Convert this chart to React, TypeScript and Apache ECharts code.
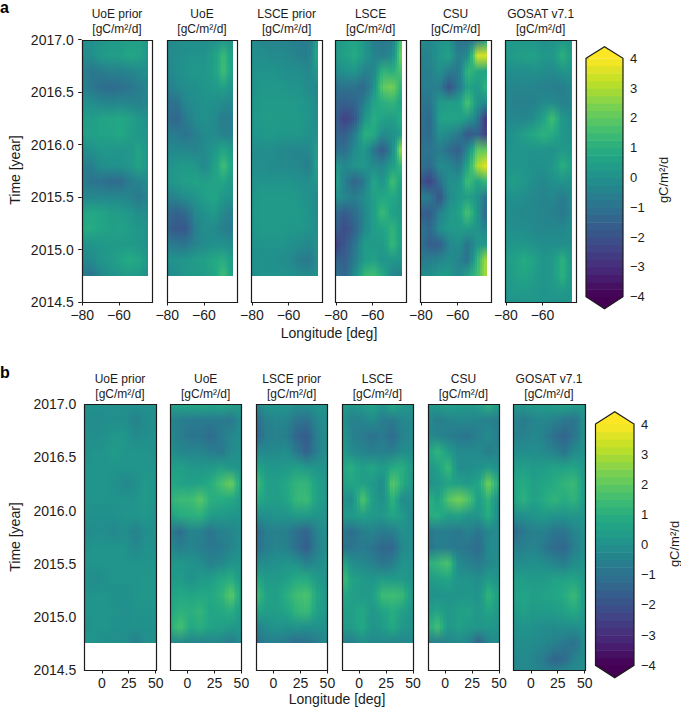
import React, { useEffect, useRef } from "react";
import * as echarts from "echarts";

// Node values; strips shade between these nodes with gradients.
const timeNodes = [2017, 2016.85, 2016.7, 2016.55, 2016.4, 2016.25, 2016.1, 2015.95, 2015.8, 2015.65, 2015.5, 2015.35, 2015.2, 2015.05, 2014.9, 2014.75];
const timeNodesFull = [...timeNodes, 2014.6, 2014.5];
const lonNodesA = [-80.3, -75.1, -69.9, -64.7, -59.6, -54.4, -49.2, -44];
const lonNodesB = [-16.2, -6.7, 2.7, 12.2, 21.6, 31.1, 40.5, 50];
const colorLevels = [-4, -3.75, -3.5, -3.25, -3, -2.75, -2.5, -2.25, -2, -1.75, -1.5, -1.25, -1, -0.75, -0.5, -0.25, 0, 0.25, 0.5, 0.75, 1, 1.25, 1.5, 1.75, 2, 2.25, 2.5, 2.75, 3, 3.25, 3.5, 3.75, 4];
const lonTicksA = [-80, -60];
const lonTicksB = [0, 25, 50];
const panelNames = ["UoE prior", "UoE", "LSCE prior", "LSCE", "CSU", "GOSAT v7.1"];
const viridis = ["#440154", "#482475", "#414487", "#355f8d", "#2a788e", "#21918c", "#22a884", "#44bf70", "#7ad151", "#bddf26", "#fde725"];

const aUoePrior = [
  [0, 0, .1, .3, .3, .5, .5, .2], [-.2, -.1, .3, .4, .4, .7, .6, .2], [-.5, -.8, -.7, -.5, -.5, -.4, -.2, -.1], [-.5, -.8, -1.1, -1.2, -1.1, -.9, -.6, -.4],
  [0, -.1, -.3, -.4, -.3, -.4, -.5, -.3], [.5, .4, .6, .7, .8, .6, .2, 0], [.5, .5, .6, .6, .8, .5, .2, .1], [-.2, 0, .2, .2, .1, .2, .6, .2],
  [-.6, -.6, -.1, 0, 0, .2, .6, .2], [-.6, -.9, -1, -1.2, -1.2, -.7, -.4, -.1], [-.3, -.3, -.3, -.3, -.3, -.4, -.8, -.4], [.6, .8, .7, .4, .4, .2, -.1, -.2],
  [.8, .9, .7, .5, .6, .4, .2, .1], [0, .1, .2, .3, .3, .3, .2, 0], [-.4, -.2, .1, .3, .6, .9, .7, .2], [-.7, -1, -.3, 0, .2, .3, .3, -.1],
];
const aUoe = [
  [-.3, -.2, -.1, -.1, -.1, 0, .2, 0], [-.3, -.1, 0, .1, .1, .5, 1.4, .4], [-.4, -.1, .1, .2, .2, .5, 1.5, .4], [-.7, -.3, -.1, 0, .1, .3, .5, 0],
  [-1, -1, -.3, -.1, 0, 0, -.2, -.3], [-1, -1.4, -.7, -.2, 0, -.2, -.7, -.6], [-.6, -.7, -.9, -.6, -.2, -.2, -.5, -.5], [-.3, -.3, -.3, -.4, -.2, .2, .7, .2],
  [0, .2, .3, .2, -.3, .5, 1.5, .5], [0, .3, .5, .6, .5, .6, .7, .2], [-.6, -.4, -.1, .1, .5, .7, .2, 0], [-1.2, -1.5, -1.2, -.3, 0, .3, -.3, -.6],
  [-1.4, -1.8, -1.8, -.6, -.1, -.2, -.6, -.7], [-.6, -.8, -.9, -.4, -.2, 0, 0, -.2], [0, .1, .2, .4, .5, .8, 1, .3], [-.3, -.1, .2, .3, .4, .7, 1.5, .4],
];
const aLscePrior = [
  [-.1, -.3, -.4, -.4, -.5, -.6, -.7, .6], [-.1, -.1, -.2, -.2, -.3, -.5, -.6, .8], [0, .1, .1, 0, -.1, -.1, -.3, .3], [0, .2, .2, .2, .1, .1, -.2, -.3],
  [.1, .3, .3, .3, .3, .2, .1, -.2], [.2, .3, .4, .3, .3, .3, .1, -.1], [.1, .2, .3, .2, .2, .2, 0, 0], [-.2, -.1, -.1, -.3, -.3, -.4, -.3, .4],
  [-.1, -.1, -.2, -.2, -.3, -.3, -.6, .6], [0, .1, .1, .1, .1, 0, -.1, .2], [.1, .3, .3, .3, .3, .2, 0, -.2], [.2, .3, .3, .3, .3, .3, .1, -.2],
  [.1, .3, .3, .3, .2, .2, .1, -.1], [0, .1, .1, .1, 0, -.1, -.3, 0], [-.1, 0, 0, -.1, -.2, -.6, -.8, -.1], [-.2, .1, .1, .1, 0, -.1, -.2, 0],
];
const aLsce = [
  [.3, .4, .7, .2, -.6, -.8, -.6, 2], [.3, .5, .9, .3, -.4, -.6, -.2, 2.5], [-.2, 0, .2, -.5, -.4, 1.2, 1, 1.7], [-1, -1, -1, -1.3, -.1, 2, 2.3, 1],
  [-1.4, -1.6, -1.4, -.6, .6, 1, 1.2, .6], [-1.5, -2.5, -1.9, 0, 1, .6, .4, 1], [-1.4, -1.6, -.7, 1, .9, -.2, 0, .4], [-1, -1.1, -.2, .3, -.8, -1.7, -.3, 3],
  [.3, -.3, .1, .2, -.2, -.3, .4, 1.3], [.7, -.6, -1.4, -.8, .7, .1, 1.5, .5], [.1, -.3, -.6, -.2, .5, .8, .8, .3], [-1.2, -1.7, -1.2, -.4, .4, 1.4, .5, .3],
  [-1.5, -2.2, -1.5, -.4, .4, .6, 1.2, .4], [-2.5, -1.8, -1, .4, .3, .3, 1.3, .4], [-1.4, -1.6, -.7, .3, .6, .1, .2, .1], [-.8, -1.4, -.2, 1.3, 1.6, .9, -.3, -.6],
];
const aCsu = [
  [-.1, -.3, .1, .1, -1, -1, -.6, .6], [-.5, -.4, .2, .6, -.6, -.2, 3.5, 3.5], [-.6, -.5, 0, -.7, -.8, 1.3, .8, .6], [-.6, -.6, -.6, -2, -.8, .6, .3, 1.2],
  [-.9, -.9, .3, .4, .4, 1.7, .1, -.3], [-.9, -1.3, .5, .7, .6, .3, -.7, -2.8], [-1.1, -1.2, 0, -.3, -.7, -1.8, -1.5, -2.5], [-.9, -.9, -.6, -1.2, -1.6, -.3, 2, 2],
  [-.9, -1.2, -.2, -.3, -.8, .7, 3, 3.7], [-1.9, -2.4, -1.1, 0, 0, 1.5, .7, 1.3], [-.5, -.7, -2, -.2, .2, .5, .1, -1], [-1.6, -1.7, -.5, .2, .5, 1.7, .2, -1.4],
  [-.8, -1.3, -.1, .3, .3, .4, .1, -.5], [-1, -1.6, -1.6, -.4, 0, -.9, .2, .3], [-.7, -.6, -.4, -.1, -.4, -1, 1.2, 3], [-.2, -.1, .4, .3, -.3, .7, 1.5, 3],
];
const aGosat = [
  [.2, .2, .2, .1, 0, .1, .2, .1], [.3, .4, .5, .6, .2, .2, 1.1, .4], [-.1, -.1, -.1, 0, -.1, -.2, .1, .1], [-.3, -.4, -.3, -.4, -.5, -.6, -.6, -.3],
  [-.3, -.5, -.5, -.5, -.2, -.2, -.5, -.4], [-.3, -.3, -.4, -.1, .6, 1.5, .2, -.1], [-.1, .1, .5, .8, 1.1, .9, .2, 0], [0, .1, .1, .1, .1, 0, .3, .2],
  [.2, .1, .1, 0, 0, .2, 1, .5], [.2, .5, .2, -.1, -.3, 0, .1, 0], [-.1, 0, -.1, -.3, -.4, -.3, -.7, -.2], [-.1, -.2, -.3, -.3, -.4, -.5, -.8, -.3],
  [0, -.1, -.1, -.3, -.3, -.3, -.3, -.1], [.1, .2, .2, 0, -.1, -.1, -.1, -.1], [.3, .6, .9, .6, .1, .3, 1.1, .2], [.2, .5, .7, .4, .1, .3, 1.1, .2],
  [.1, .3, .3, .2, .1, .2, .3, .1], [.1, .1, .2, .2, .1, .1, .1, .1],
];
const bUoePrior = [
  [0, 0, 0, 0, 0, 0, 0, 0], [-.1, -.2, -.1, -.1, -.1, -.5, -.2, 0], [-.1, -.1, 0, .2, .2, -.2, -.1, 0], [0, .1, .1, .4, .1, .1, .1, 0],
  [.1, .1, .1, .1, .1, .1, .1, .1], [.1, .1, .1, 0, -.3, -.1, .3, .1], [.1, .1, .1, .1, .1, .1, .3, .1], [0, 0, 0, 0, .1, .1, .2, 0],
  [-.3, -.1, -.1, -.3, -.1, -.5, -.1, 0], [0, .1, .1, .1, .1, -.3, 0, 0], [.1, .1, .1, .1, .1, .1, .1, .1], [0, -.2, 0, .1, .1, .1, .2, .1],
  [.1, .1, .1, 0, 0, .1, .2, .1], [.1, .1, .1, .1, -.1, .1, .1, .1], [0, .1, .1, 0, 0, 0, 0, 0], [.2, .1, -.1, -.1, -.1, -.6, -.1, 0],
];
const bUoe = [
  [.5, .7, .8, .8, .7, .8, .6, .3], [-.4, -.6, -.7, -.7, -.7, -.7, -.8, -.1], [-.3, -.6, -.9, -.9, -1.2, -.7, -.3, -.1], [0, -.3, -.4, -.4, -.6, -.8, -.2, 0],
  [.5, .5, .3, .2, .3, .5, .2, .1], [.8, .6, .5, .6, .9, 1.6, 2.2, .5], [1.1, 1.4, 1.4, 1.9, 1, .9, .8, .3], [.6, .9, 1, 1.1, .4, .3, .2, .1],
  [-.7, -1.1, -.4, -.5, -.9, -.5, -.4, -.1], [-.3, -.6, -.4, -.6, -.8, -.7, -.4, 0], [.2, .2, .1, -.1, -.5, -.3, .1, .1], [.3, .4, 0, .3, .4, .8, 1, .3],
  [.6, .8, .7, .8, .8, 1.1, 2, .5], [.8, 1.1, 1, 1.2, .7, .8, 1, .3], [1, 1.6, .8, 1, .6, .5, .3, .2], [-.3, -.3, -.4, -.5, -.4, -.4, -.7, -.1],
];
const bLscePrior = [
  [-.3, .2, .1, .2, 0, 0, .1, .1], [-1.2, -.5, -.3, -.4, -.9, -1, -.3, 0], [-1.4, -.6, -.5, -.6, -1.4, -1.7, -.5, 0], [-.2, -.3, -.2, -.1, -.8, -1.5, -.5, 0],
  [.7, .3, .2, .3, .5, .3, .1, .1], [1.6, .5, .4, .8, 1.2, 1.2, .5, .2], [1, .5, .4, .7, 1.3, 1.4, .5, .2], [-.1, 0, .1, .1, .4, .3, .1, .1],
  [-1.3, -.6, -.5, -.6, -1.1, -1.4, -.4, 0], [-1.1, -.6, -.4, -.5, -1.1, -1.6, -.5, 0], [-.2, -.1, 0, .1, 0, -.5, -.2, .1], [.8, .3, .3, .5, .9, .9, .3, .1],
  [1.6, .6, .5, 1, 1.5, 1.7, .7, .2], [.7, .4, .4, .7, 1.2, 1.4, .5, .2], [-.5, -.1, .1, 0, .1, 0, 0, 0], [-1.2, -.6, -.6, -.8, -1.2, -1, -.7, -.2],
];
const bLsce = [
  [.3, .2, .3, .7, .1, .9, .3, .1], [.1, -.5, -.4, -.1, -.6, -.7, -.3, -.2], [.3, -.5, -.7, -1, -.7, -1.2, -.4, -.3], [.4, -.2, -.4, -.6, -.5, -.6, -.1, -.1],
  [.7, 1, .4, .7, .3, .9, 1, .2], [.5, .7, .5, .3, -.2, 2, .9, .1], [0, -.2, 1.8, .5, -.1, 1.2, -.2, -.1], [.3, .3, .5, .3, .2, .7, .3, -.4],
  [-.7, -1.1, -.6, -.4, -.7, -.6, 0, -.1], [-1, -.9, -.7, -.9, -1.3, -1.3, -.2, -.1], [.9, -.1, -.3, -.5, -.9, -.6, .1, 0], [1.7, .6, .3, .2, .4, .3, .3, .1],
  [.8, .5, .3, .4, 1.4, 1.5, 1.3, .2], [.5, .5, .8, .2, .6, 1, .5, .1], [.3, .4, .8, .1, .3, .9, .2, 0], [-.5, -.6, -.1, -.3, -.3, -.4, -.3, -.2],
];
const bCsu = [
  [.2, .4, .6, .4, .3, .5, 1.1, .3], [-.2, -.6, -.4, -.3, -.3, -.4, -.5, -.6], [-.2, -.4, -.6, -.8, -.9, -.5, -.2, -.7], [.6, 1.2, .4, -.2, -.2, -.2, -.6, -.3],
  [.2, .5, 1.4, -.1, -.1, 0, .3, -.1], [0, .2, .6, .5, .3, .7, 2.3, .6], [1.2, .5, 1.8, 2.3, 1.8, .4, 1.2, -.3], [.9, 1, .4, .6, .1, .2, 1, -.4],
  [-.8, -.6, -.6, -.8, -.5, -.9, -.3, -.2], [-1, -.6, -.7, -.8, -.9, -1.2, -.2, -.2], [1, 1.3, 1.7, -.2, -.5, -.7, -.3, -.1], [.3, .5, .7, .1, .1, -.1, .4, .1],
  [0, 0, .1, .1, .2, .1, 1.2, .4], [.3, .7, .2, .5, .6, .2, .7, .2], [.8, 1.6, .2, .5, .3, .2, .2, .1], [-.6, -.7, -.4, -.2, -.4, -1.5, -.4, -.1],
];
const bGosat = [
  [.2, .3, .4, .4, .5, .7, .5, .2], [-.4, -.7, -.4, -.3, -.5, -.8, -.9, 0], [-.5, -.5, -.3, -.5, -1.1, -1.4, -.9, -.1], [-.1, -.1, -.1, -.2, -.5, -.9, -.2, 0],
  [.4, .5, .3, .4, .6, .6, .7, .2], [.7, .9, .5, .7, .9, 1.2, 1.4, .3], [.6, 1.1, .5, .9, 1.2, .9, 1.2, .3], [-.2, 0, .1, .3, .1, .1, .2, .1],
  [-1.3, -.8, -.5, -.5, -.9, -.9, -.4, -.1], [-.6, -.5, -.4, -.8, -1.2, -1.3, -.6, -.1], [-.1, -.1, 0, -.1, -.4, -.6, -.1, 0], [.4, .4, .3, .3, .6, .6, .7, .2],
  [.5, .7, .5, .6, .7, .9, 1.4, .3], [.3, .5, .3, .3, .4, .5, .9, .2], [0, .1, 0, -.1, -.2, -.1, -.1, 0], [-.2, -.1, -.2, -.3, -.5, -.8, -1, -.2],
  [-.3, -.2, -.4, -.7, -1.4, -1.2, -.5, -.1], [-.4, -.3, -.3, -.5, -.6, -.4, -.2, -.1],
];

const fieldsA = [aUoePrior, aUoe, aLscePrior, aLsce, aCsu, aGosat];
const fieldsB = [bUoePrior, bUoe, bLscePrior, bLsce, bCsu, bGosat];

const FONT = "Liberation Sans";
const INK = "#1c1c1c";

const color = (v: number) => echarts.color.lerp(Math.min(1, Math.max(0, (v + 4) / 8)), viridis) as string;

function buildOption() {
  const grids: any[] = [], xAxes: any[] = [], yAxes: any[] = [], series: any[] = [], titles: any[] = [], graphics: any[] = [];

  const rows = [
    { lefts: [81.7, 166.7, 251.3, 335.3, 420.3, 505.3], width: 70.6, top: 39.5, height: 262.5, xMin: -80.3, xMax: -41.8, ticks: lonTicksA, lons: lonNodesA, fields: fieldsA, titleTop: 6 },
    { lefts: [84.3, 170, 256, 341.7, 427.7, 513.3], width: 71.4, top: 404.3, height: 265.7, xMin: -16.2, xMax: 50, ticks: lonTicksB, lons: lonNodesB, fields: fieldsB, titleTop: 371 },
  ];
  const label = { fontFamily: FONT, fontSize: 14, color: INK };

  rows.forEach((row) => {
    row.lefts.forEach((left, p) => {
      const idx = grids.length;
      const field = row.fields[p];
      const times = field.length > 16 ? timeNodesFull : timeNodes;
      grids.push({ left, top: row.top, width: row.width, height: row.height });
      xAxes.push({
        type: "value", gridIndex: idx, min: row.xMin, max: row.xMax, splitLine: { show: false },
        axisLine: { show: false },
        axisTick: { show: true, length: 3.5, customValues: row.ticks, lineStyle: { color: INK, width: 1 } },
        axisLabel: { show: true, margin: 6, customValues: row.ticks, ...label, formatter: (v: number) => String(v).replace("-", "\u2212") },
      });
      yAxes.push({
        type: "value", gridIndex: idx, min: 2014.5, max: 2017, interval: 0.5, show: p === 0, splitLine: { show: false },
        axisLine: { show: false },
        axisTick: { show: true, length: 3.5, lineStyle: { color: INK, width: 1 } },
        axisLabel: { show: true, margin: 8, ...label, formatter: (v: number) => v.toFixed(1) },
      });
      const lons = row.lons;
      series.push({
        type: "custom", coordinateSystem: "cartesian2d", xAxisIndex: idx, yAxisIndex: idx, silent: true, clip: false,
        data: lons.slice(0, -1).map((_, c) => [c]),
        encode: { x: -1, y: -1 },
        renderItem: (_: any, api: any) => {
          const c = api.value(0);
          const yTop = Math.round(api.coord([lons[0], times[0]])[1]);
          const yBot = Math.round(api.coord([lons[0], times[times.length - 1]])[1]);
          const span = times[0] - times[times.length - 1];
          const strips = 4;
          const children: any[] = [];
          for (let k = 0; k < strips; k++) {
            const f = (k + 0.5) / strips;
            const x0 = Math.round(api.coord([lons[c] + ((lons[c + 1] - lons[c]) * k) / strips, times[0]])[0]);
            const x1 = Math.round(api.coord([lons[c] + ((lons[c + 1] - lons[c]) * (k + 1)) / strips, times[0]])[0]);
            const stops = times.map((t, j) => ({
              offset: (times[0] - t) / span,
              color: color(field[j][c] * (1 - f) + field[j][c + 1] * f),
            }));
            children.push({
              type: "rect",
              shape: { x: x0, y: yTop, width: x1 - x0, height: yBot - yTop },
              style: { fill: new echarts.graphic.LinearGradient(0, 0, 0, 1, stops), stroke: null },
            });
          }
          return { type: "group", children };
        },
      });
      const bx0 = Math.round(left), bx1 = Math.round(left + row.width), by0 = Math.round(row.top), by1 = Math.round(row.top + row.height);
      graphics.push({
        type: "rect", z: 100, silent: true,
        shape: { x: bx0 + 0.5, y: by0 + 0.5, width: bx1 - bx0, height: by1 - by0 },
        style: { fill: "none", stroke: INK, lineWidth: 1.2 },
      });
      titles.push({
        text: `${panelNames[p]}\n[gC/m\u00b2/d]`, left: left + row.width / 2, top: row.titleTop, textAlign: "center", padding: 0,
        textStyle: { fontFamily: FONT, fontSize: 12, fontWeight: "normal", color: INK, lineHeight: 15 },
      });
    });
  });

  const bars = [
    { left: 586, width: 37, top: 58.3, height: 238.4, tipTop: 46.7, tipBot: 308.7, nameX: 663, nameY: 180 },
    { left: 595.5, width: 38.5, top: 424, height: 241.3, tipTop: 411.7, tipBot: 677.7, nameX: 674, nameY: 544 },
  ];
  bars.forEach((b) => {
    const idx = grids.length;
    grids.push({ left: b.left, top: b.top, width: b.width, height: b.height });
    xAxes.push({ type: "value", gridIndex: idx, min: 0, max: 1, show: false });
    yAxes.push({
      type: "value", gridIndex: idx, min: -4, max: 4, interval: 1, position: "right", splitLine: { show: false },
      axisLine: { show: false },
      axisTick: { show: true, length: 3, lineStyle: { color: INK, width: 1 } },
      axisLabel: { show: true, margin: 7, fontFamily: FONT, fontSize: 13, color: INK, formatter: (v: number) => String(v).replace("-", "\u2212") },
    });
    series.push({
      type: "custom", coordinateSystem: "cartesian2d", xAxisIndex: idx, yAxisIndex: idx, silent: true,
      data: colorLevels.slice(0, -1).map((v, i) => [v, colorLevels[i + 1]]),
      encode: { y: [0, 1] },
      renderItem: (_: any, api: any) => {
        const lo = api.value(0), hi = api.value(1);
        const a = api.coord([0, hi]), d = api.coord([1, lo]);
        return {
          type: "rect",
          shape: { x: a[0], y: a[1], width: d[0] - a[0], height: d[1] - a[1] + 0.6 },
          style: { fill: color((lo + hi) / 2), stroke: null },
        };
      },
    });
    const l = b.left, r = b.left + b.width, m = l + b.width / 2, t = b.top, e = b.top + b.height;
    graphics.push(
      { type: "polygon", z: 50, silent: true, shape: { points: [[l, t], [m, b.tipTop], [r, t]] }, style: { fill: viridis[10] } },
      { type: "polygon", z: 50, silent: true, shape: { points: [[l, e], [m, b.tipBot], [r, e]] }, style: { fill: viridis[0] } },
      { type: "polygon", z: 100, silent: true, shape: { points: [[l, t], [m, b.tipTop], [r, t], [r, e], [m, b.tipBot], [l, e]] }, style: { fill: "none", stroke: INK, lineWidth: 1.2 } },
      { type: "text", z: 100, silent: true, x: b.nameX, y: b.nameY, rotation: Math.PI / 2, style: { text: "gC/m\u00b2/d", font: `13px ${FONT}`, fill: INK, align: "center", verticalAlign: "middle" } },
    );
  });

  const axisText = (text: string, x: number, y: number, rotation = 0) => ({
    type: "text", z: 100, silent: true, x, y, rotation,
    style: { text, font: `14px ${FONT}`, fill: INK, align: "center", verticalAlign: "middle" },
  });
  graphics.push(
    axisText("Longitude [deg]", 329, 333),
    axisText("Longitude [deg]", 337, 699),
    axisText("Time [year]", 15, 170, Math.PI / 2),
    axisText("Time [year]", 15, 537, Math.PI / 2),
    { type: "text", z: 100, silent: true, x: 0, y: 7, style: { text: "a", font: `bold 16px ${FONT}`, fill: "#000", verticalAlign: "middle" } },
    { type: "text", z: 100, silent: true, x: 0, y: 372, style: { text: "b", font: `bold 16px ${FONT}`, fill: "#000", verticalAlign: "middle" } },
  );

  return { animation: false, backgroundColor: "#fff", title: titles, grid: grids, xAxis: xAxes, yAxis: yAxes, series, graphic: graphics };
}

export default function App() {
  const ref = useRef<HTMLDivElement>(null);
  useEffect(() => {
    const chart = echarts.init(ref.current!, undefined, { renderer: "svg" });
    chart.setOption(buildOption() as any);
    return () => chart.dispose();
  }, []);
  return <div ref={ref} style={{ position: "absolute", left: 0, top: 0, width: 681, height: 711 }} />;
}
